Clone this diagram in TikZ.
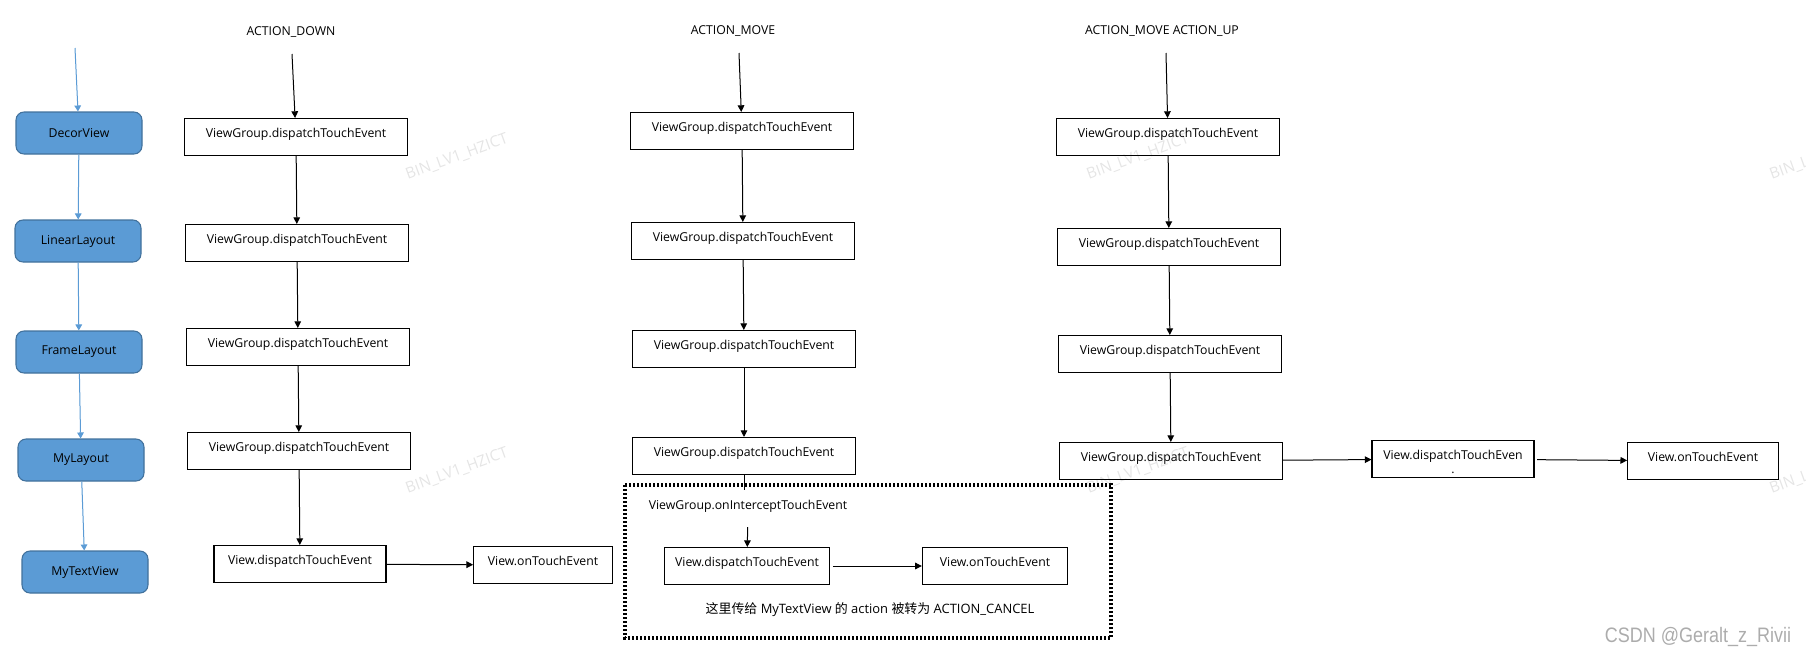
\documentclass[tikz,border=0pt]{standalone}
\usepackage{fontspec}
\setmainfont{Open Sans}
\newfontfamily\cjk{Noto Sans CJK SC}
\newfontfamily\markfont{Liberation Sans}
\usepackage{tikz}
\usetikzlibrary{arrows.meta,positioning}
\definecolor{layerblue}{HTML}{5B9BD5}
\definecolor{layeredge}{HTML}{41719C}
\newcommand{\boxfont}{\fontsize{9.2pt}{11pt}\selectfont}

\begin{document}
\begin{tikzpicture}[
    x=0.75pt, y=-0.75pt,
    layer/.style={rectangle, rounded corners=6pt, draw=layeredge, fill=layerblue, line width=0.8pt, minimum width=94.5pt, minimum height=31.5pt, font=\boxfont},
    groupbox/.style={rectangle, draw, line width=0.8pt, minimum width=167pt, minimum height=27.75pt, text height=6pt, text depth=4.6pt, font=\boxfont},
    viewbox/.style={rectangle, draw, line width=0.8pt, minimum height=27.75pt, text height=6pt, text depth=4.6pt, font=\boxfont},
    actionlabel/.style={font=\boxfont, inner sep=1pt},
    plaintext/.style={font=\boxfont, inner sep=1pt},
    flow/.style={-{Triangle[length=5pt,width=5pt]}, line width=0.75pt},
    layerflow/.style={-{Triangle[length=4.5pt,width=5pt]}, line width=0.75pt, draw=layerblue, fill=layerblue},
    cancelframe/.style={line width=2.3pt, dash pattern=on 1.7pt off 1.3pt},
    watermark/.style={text=gray!20, rotate=20, font=\fontsize{11.5pt}{12pt}\selectfont},
    csdn/.style={text=gray!65, xscale=0.86, font=\markfont\fontsize{15.7pt}{16pt}\selectfont}
]
\useasboundingbox (0,0) rectangle (1806,657);

% Watermarks
\foreach \wx in {457,1138,1821}
  \foreach \wy in {157,471}
    \node[watermark] (mark-\wx-\wy) at (\wx,\wy) {BIN\_LV1\_HZICT};

% Left column - view hierarchy
\coordinate (layertop) at (75,48);
\node[layer] (decor) at (79,133) {DecorView};
\node[layer] (linear) at (78,241) {LinearLayout};
\node[layer] (frame) at (79,352) {FrameLayout};
\node[layer] (mylayout) at (81,460) {MyLayout};
\node[layer] (mytext) at (85,572) {MyTextView};

% First column - ACTION_DOWN
\node[actionlabel] (down) at (291,32) {ACTION\_DOWN};
\coordinate (downtop) at (292,54);
\node[groupbox] (d1) at (296,137) {ViewGroup.dispatchTouchEvent};
\node[groupbox] (d2) at (297,243) {ViewGroup.dispatchTouchEvent};
\node[groupbox] (d3) at (298,347) {ViewGroup.dispatchTouchEvent};
\node[groupbox] (d4) at (299,451) {ViewGroup.dispatchTouchEvent};
\node[viewbox, minimum width=129pt] (dview) at (300,564) {View.dispatchTouchEvent};
\node[viewbox, minimum width=104pt] (dtouch) at (543,565) {View.onTouchEvent};

% Second column - ACTION_MOVE
\node[actionlabel] (move) at (733,31) {ACTION\_MOVE};
\coordinate (movetop) at (739,53);
\node[groupbox] (m1) at (742,131) {ViewGroup.dispatchTouchEvent};
\node[groupbox] (m2) at (743,241) {ViewGroup.dispatchTouchEvent};
\node[groupbox] (m3) at (744,349) {ViewGroup.dispatchTouchEvent};
\node[groupbox] (m4) at (744,456) {ViewGroup.dispatchTouchEvent};
\coordinate (movetick) at (744,490);
\node[plaintext] (intercept) at (748,506) {ViewGroup.onInterceptTouchEvent};
\node[viewbox, minimum width=124pt] (mview) at (747,566) {View.dispatchTouchEvent};
\node[viewbox, minimum width=109pt] (mtouch) at (995,566) {View.onTouchEvent};
\node[plaintext, font=\fontsize{9.7pt}{11pt}\selectfont] (cancelnote) at (870,610) {{\cjk 这里传给} MyTextView {\cjk 的} action {\cjk 被转为} ACTION\_CANCEL};
\draw[cancelframe] (625,485) rectangle (1111,638);

% Third column - ACTION_MOVE ACTION_UP
\node[actionlabel] (up) at (1162,31) {ACTION\_MOVE ACTION\_UP};
\coordinate (uptop) at (1166,53);
\node[groupbox] (u1) at (1168,137) {ViewGroup.dispatchTouchEvent};
\node[groupbox] (u2) at (1169,247) {ViewGroup.dispatchTouchEvent};
\node[groupbox] (u3) at (1170,354) {ViewGroup.dispatchTouchEvent};
\node[groupbox] (u4) at (1171,461) {ViewGroup.dispatchTouchEvent};
\node[viewbox, minimum width=121.5pt] (uview) at (1453,459) {\begin{tabular}[t]{@{}c@{}}View.dispatchTouchEven\\[-0.5pt].\end{tabular}};
\node[viewbox, minimum width=113pt] (utouch) at (1703,461) {View.onTouchEvent};

% Arrows
\draw[layerflow] (layertop) -- (decor);
\draw[layerflow] (decor) -- (linear);
\draw[layerflow] (linear) -- (frame);
\draw[layerflow] (frame) -- (mylayout);
\draw[layerflow] (mylayout) -- (mytext);

\draw[flow] (downtop) -- (d1);
\draw[flow] (d1) -- (d2);
\draw[flow] (d2) -- (d3);
\draw[flow] (d3) -- (d4);
\draw[flow] (d4) -- (dview);
\draw[flow] (dview) -- (dtouch);

\draw[flow] (movetop) -- (m1);
\draw[flow] (m1) -- (m2);
\draw[flow] (m2) -- (m3);
\draw[flow] (m3) -- (m4);
\draw[line width=0.75pt] (m4) -- (movetick);
\draw[flow, shorten <=10pt] (intercept) -- (mview);
\draw[flow, shorten <=2pt] (mview) -- (mtouch);

\draw[flow] (uptop) -- (u1);
\draw[flow] (u1) -- (u2);
\draw[flow] (u2) -- (u3);
\draw[flow] (u3) -- (u4);
\draw[flow] (u4) -- (uview);
\draw[flow, shorten <=2pt] (uview) -- (utouch);

\node[csdn] (source) at (1698,637) {CSDN @Geralt\_z\_Rivii};

\end{tikzpicture}
\end{document}
